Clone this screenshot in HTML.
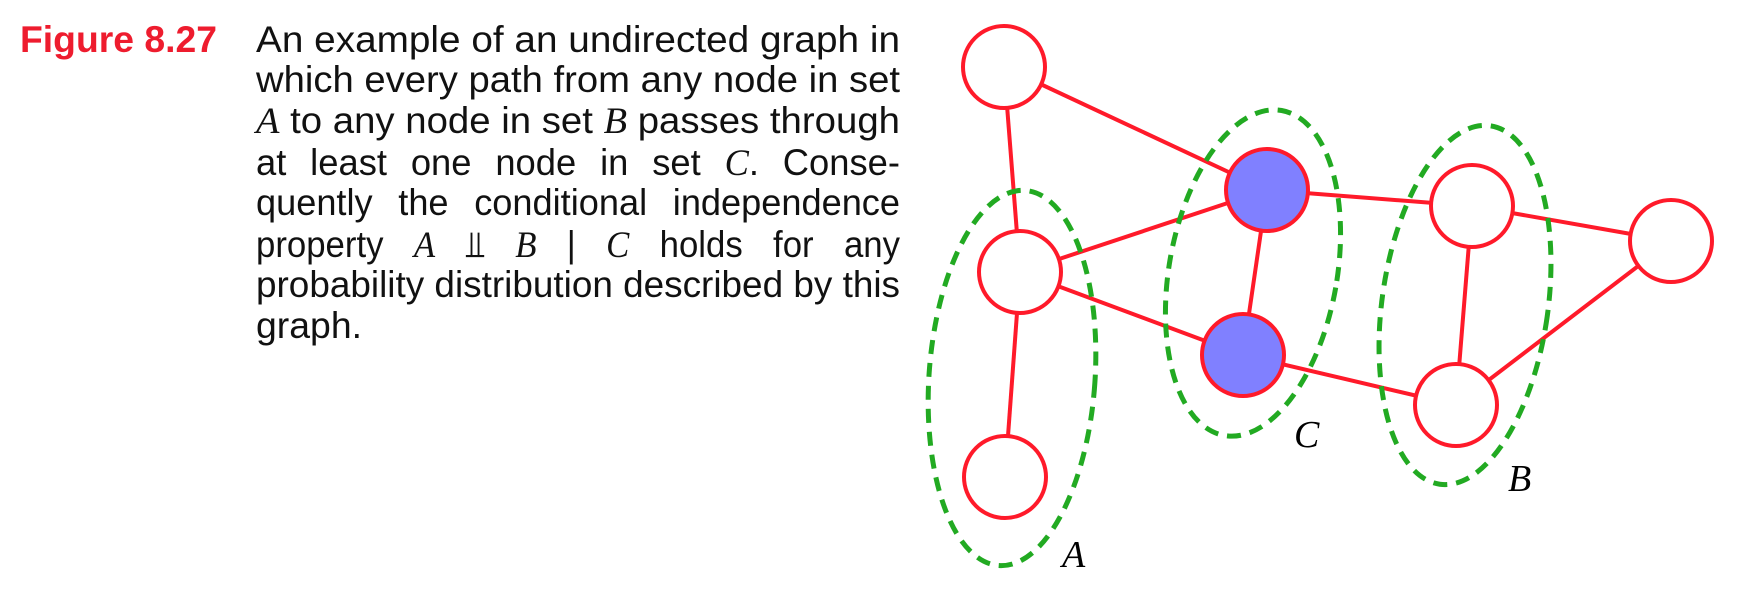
<!DOCTYPE html>
<html><head><meta charset="utf-8"><style>
html,body{margin:0;padding:0;background:#fff;width:1750px;height:600px;overflow:hidden}
svg{display:block}
</style></head><body>
<svg width="1750" height="600" viewBox="0 0 1750 600">
<g font-family="Liberation Sans, sans-serif" font-size="37">
<text x="20" y="52" fill="#ee1c2e" font-weight="bold" textLength="197" lengthAdjust="spacingAndGlyphs">Figure 8.27</text>
<text x="256" y="52" textLength="644" lengthAdjust="spacingAndGlyphs" fill="#111">An example of an undirected graph in</text>
<text x="256" y="92" textLength="644" lengthAdjust="spacingAndGlyphs" fill="#111">which every path from any node in set</text>
<text x="256" y="133" textLength="644" lengthAdjust="spacingAndGlyphs" fill="#111"><tspan font-family="Liberation Serif, serif" font-style="italic">A</tspan> to any node in set <tspan font-family="Liberation Serif, serif" font-style="italic">B</tspan> passes through</text>
<text x="256" y="175" textLength="644" lengthAdjust="spacingAndGlyphs" fill="#111" word-spacing="14">at least one node in set <tspan font-family="Liberation Serif, serif" font-style="italic">C</tspan>.  Conse-</text>
<text x="256" y="215" textLength="644" lengthAdjust="spacingAndGlyphs" fill="#111" word-spacing="16">quently the conditional independence</text>
<text x="256" y="257" textLength="644" lengthAdjust="spacingAndGlyphs" fill="#111" word-spacing="22">property <tspan font-family="Liberation Serif, serif" font-style="italic">A</tspan> ⫫ <tspan font-family="Liberation Serif, serif" font-style="italic">B</tspan> | <tspan font-family="Liberation Serif, serif" font-style="italic">C</tspan> holds for any</text>
<text x="256" y="297" textLength="644" lengthAdjust="spacingAndGlyphs" fill="#111">probability distribution described by this</text>
<text x="256" y="338" fill="#111" textLength="106" lengthAdjust="spacingAndGlyphs">graph.</text>
</g>
<g stroke="#ff1a2a" stroke-width="4">
<line x1="1004" y1="67" x2="1020" y2="272"/>
<line x1="1004" y1="67" x2="1267" y2="190"/>
<line x1="1020" y1="272" x2="1267" y2="190"/>
<line x1="1020" y1="272" x2="1243" y2="355"/>
<line x1="1020" y1="272" x2="1005" y2="477"/>
<line x1="1267" y1="190" x2="1243" y2="355"/>
<line x1="1267" y1="190" x2="1472" y2="206"/>
<line x1="1243" y1="355" x2="1456" y2="405"/>
<line x1="1472" y1="206" x2="1456" y2="405"/>
<line x1="1472" y1="206" x2="1671" y2="241"/>
<line x1="1456" y1="405" x2="1671" y2="241"/>
</g>
<g fill="none" stroke="#22aa22" stroke-width="5" stroke-dasharray="14 9">
<ellipse cx="1012" cy="378" rx="83" ry="188" transform="rotate(4 1012 378)"/>
<ellipse cx="1253" cy="273" rx="84" ry="165" transform="rotate(10 1253 273)"/>
<ellipse cx="1465" cy="305" rx="83" ry="181" transform="rotate(8 1465 305)"/>
</g>
<g stroke="#ff1a2a" stroke-width="4">
<circle cx="1004" cy="67" r="41" fill="#fff"/>
<circle cx="1020" cy="272" r="41" fill="#fff"/>
<circle cx="1005" cy="477" r="41" fill="#fff"/>
<circle cx="1267" cy="190" r="41" fill="#8080ff"/>
<circle cx="1243" cy="355" r="41" fill="#8080ff"/>
<circle cx="1472" cy="206" r="41" fill="#fff"/>
<circle cx="1456" cy="405" r="41" fill="#fff"/>
<circle cx="1671" cy="241" r="41" fill="#fff"/>
</g>
<g font-family="Liberation Serif, serif" font-style="italic" font-size="38" fill="#000">
<text x="1062" y="567">A</text>
<text x="1294" y="447">C</text>
<text x="1508" y="491">B</text>
</g>
</svg>
</body></html>
